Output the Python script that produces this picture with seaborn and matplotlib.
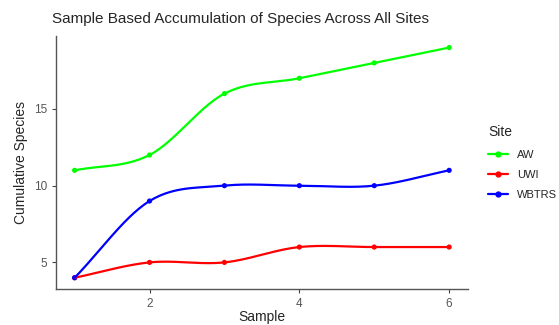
import numpy as np
import pandas as pd
import matplotlib
matplotlib.use("Agg")
import matplotlib.pyplot as plt
import seaborn as sns

# Data
sample = [1, 2, 3, 4, 5, 6]
aw = [11, 12, 16, 17, 18, 19]
uwi = [4, 5, 5, 6, 6, 6]
wbtrs = [4, 9, 10, 10, 10, 11]
sites = ["AW", "UWI", "WBTRS"]
colors = {"AW": "#00FF00", "UWI": "#FF0000", "WBTRS": "#0000FF"}

df = pd.DataFrame({
    "Sample": sample * 3,
    "Cumulative Species": aw + uwi + wbtrs,
    "Site": ["AW"] * 6 + ["UWI"] * 6 + ["WBTRS"] * 6,
})


def catmull_rom(x, y, n=30):
    # smooth curve through the observed points
    x = np.asarray(x, float)
    y = np.asarray(y, float)
    px = np.concatenate([[2 * x[0] - x[1]], x, [2 * x[-1] - x[-2]]])
    py = np.concatenate([[2 * y[0] - y[1]], y, [2 * y[-1] - y[-2]]])
    xs, ys = [], []
    t = np.linspace(0, 1, n)
    for i in range(1, len(px) - 2):
        for p, out in ((px, xs), (py, ys)):
            p0, p1, p2, p3 = p[i - 1], p[i], p[i + 1], p[i + 2]
            out.extend(0.5 * (2 * p1 + (-p0 + p2) * t
                              + (2 * p0 - 5 * p1 + 4 * p2 - p3) * t ** 2
                              + (-p0 + 3 * p1 - 3 * p2 + p3) * t ** 3))
    return np.array(xs), np.array(ys)


sns.set_style("ticks")
plt.rcParams["font.family"] = ["Liberation Sans", "DejaVu Sans"]

fig = plt.figure(figsize=(5.59, 3.25), dpi=100)
ax = fig.add_axes([0.1, 0.11, 0.737, 0.779])

for site in sites:
    d = df[df["Site"] == site]
    sx, sy = catmull_rom(d["Sample"], d["Cumulative Species"])
    ax.plot(sx, sy, color=colors[site], lw=1.6)
sns.scatterplot(data=df, x="Sample", y="Cumulative Species", hue="Site",
                palette=colors, s=14, edgecolor="none", legend=False, ax=ax)

ax.set_xlim(0.75, 6.25)
ax.set_ylim(3.25, 19.75)
ax.set_xticks([2, 4, 6])
ax.set_yticks([5, 10, 15])
ax.tick_params(labelsize=8.5, labelcolor="#555555", color="#444444", length=3)
for s in ["left", "bottom"]:
    ax.spines[s].set_color("#555555")
    ax.spines[s].set_linewidth(1.0)
sns.despine(ax=ax)
ax.set_xlabel("Sample", fontsize=10, labelpad=0)
ax.set_ylabel("Cumulative Species", fontsize=10)
fig.text(0.093, 0.92, "Sample Based Accumulation of Species Across All Sites",
         fontsize=11, ha="left", va="bottom")

handles = [plt.Line2D([], [], color=colors[s], marker="o", markersize=3.5, lw=1.6)
           for s in sites]
leg = fig.legend(handles, sites, title="Site", loc="center left",
                 bbox_to_anchor=(0.855, 0.5), frameon=False, fontsize=8,
                 title_fontsize=10, handlelength=1.8, labelspacing=0.9)
leg._legend_box.align = "left"

fig.savefig("out.png", dpi=100)
